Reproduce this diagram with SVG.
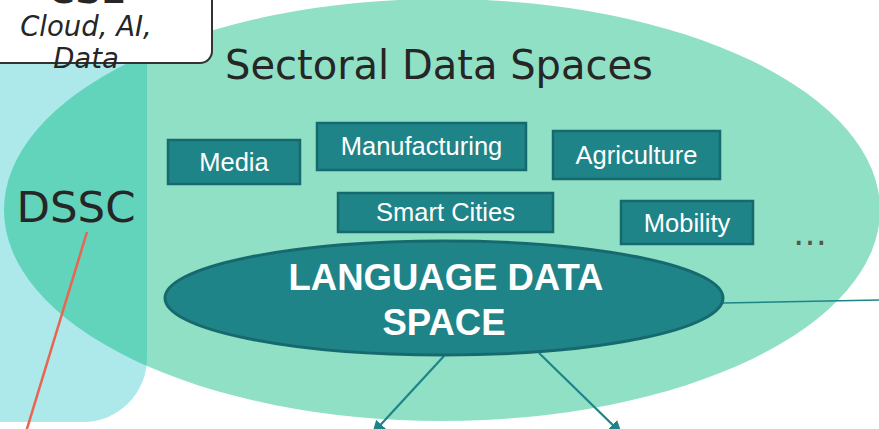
<svg xmlns="http://www.w3.org/2000/svg" width="879" height="429" viewBox="0 0 879 429">
<style>
.sector{fill:#1F8488;stroke:#166A6E;stroke-width:2.5}
.stxt{font-family:"Liberation Sans",Arial,sans-serif;font-size:25.5px;fill:#ffffff;text-anchor:middle}
.dark{font-family:"DejaVu Sans",Verdana,sans-serif;fill:#262626}
.conn{stroke:#1F8488;stroke-width:2.2;fill:none}
</style>
<defs>
<clipPath id="dsscClip"><path d="M-20,-20 H147 V358 A64,64 0 0 1 83,422 H-20 Z"/></clipPath>
<marker id="arr" viewBox="0 0 10 10" refX="9" refY="5" markerWidth="6" markerHeight="6" markerUnits="strokeWidth" orient="auto"><path d="M0,0 L10,5 L0,10 Z" fill="#1F8488"/></marker>
</defs>
<rect width="879" height="429" fill="#ffffff"/>
<g id="sectoral-data-spaces">
<ellipse cx="442" cy="210" rx="438" ry="211" fill="#8FE0C5"/>
</g>
<g id="dssc">
<path d="M-20,-20 H147 V358 A64,64 0 0 1 83,422 H-20 Z" fill="#ADE8EA"/>
<ellipse cx="442" cy="210" rx="438" ry="211" fill="#62D4BC" clip-path="url(#dsscClip)"/>
<text class="dark" x="76" y="222" font-size="43.5" text-anchor="middle">DSSC</text>
</g>
<text class="dark" x="225" y="79" font-size="40">Sectoral Data Spaces</text>
<g id="cse">
<rect x="-12" y="-14" width="224" height="77" rx="12" fill="#ffffff" stroke="#333333" stroke-width="2"/>
<text class="dark" x="87" y="3" font-size="36" font-weight="bold" text-anchor="middle">CSE</text>
<text class="dark" x="86" y="36" font-size="27.5" font-style="italic" text-anchor="middle">Cloud, AI,</text>
<text class="dark" x="86" y="68" font-size="27.5" font-style="italic" text-anchor="middle">Data</text>
</g>
<g id="media"><rect class="sector" x="168" y="140" width="132" height="44"/><text class="stxt" x="234" y="171">Media</text></g>
<g id="manufacturing"><rect class="sector" x="317" y="123" width="209" height="47"/><text class="stxt" x="421.5" y="155">Manufacturing</text></g>
<g id="agriculture"><rect class="sector" x="553" y="131" width="167" height="48"/><text class="stxt" x="636.5" y="164">Agriculture</text></g>
<g id="smart-cities"><rect class="sector" x="338" y="193" width="215" height="39"/><text class="stxt" x="445.5" y="221">Smart Cities</text></g>
<g id="mobility"><rect class="sector" x="621" y="201" width="132" height="43"/><text class="stxt" x="687" y="232">Mobility</text></g>
<g id="more"><text x="810" y="245" font-family="DejaVu Sans,sans-serif" font-size="34" fill="#555555" text-anchor="middle">…</text></g>
<g id="connectors">
<line x1="723" y1="303" x2="879" y2="300" stroke="#1F8488" stroke-width="1.6"/>
<line class="conn" x1="444" y1="356" x2="373" y2="433" marker-end="url(#arr)"/>
<line class="conn" x1="539" y1="353" x2="621" y2="433" marker-end="url(#arr)"/>
<line x1="87" y1="232" x2="26" y2="432" stroke="#E8654F" stroke-width="2.5"/>
</g>
<g id="language-data-space">
<ellipse cx="444" cy="298" rx="279" ry="57" fill="#1F8488" stroke="#166A6E" stroke-width="3"/>
<text x="446" y="290" font-family="Liberation Sans,Arial,sans-serif" font-size="36.5" font-weight="bold" fill="#ffffff" text-anchor="middle">LANGUAGE DATA</text>
<text x="444" y="335" font-family="Liberation Sans,Arial,sans-serif" font-size="36.5" font-weight="bold" fill="#ffffff" text-anchor="middle">SPACE</text>
</g>
</svg>
